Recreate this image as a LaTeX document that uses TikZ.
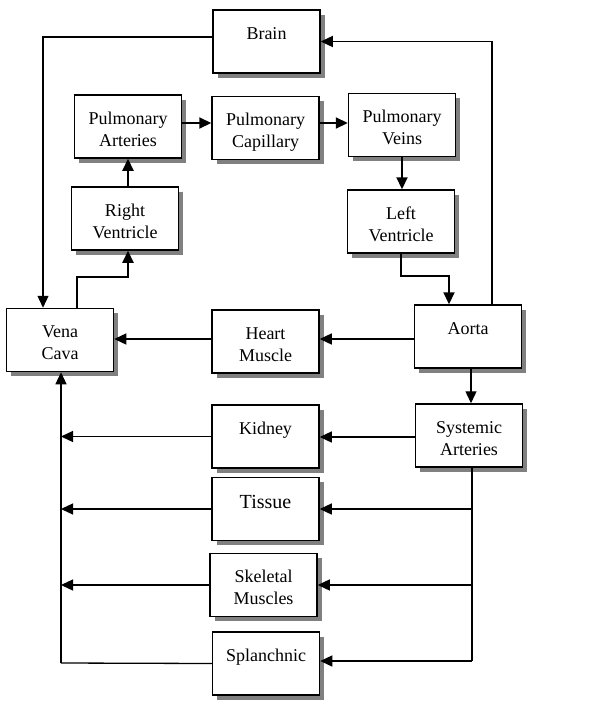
\documentclass[tikz,border=0pt]{standalone}
\usepackage{fontspec}
\setmainfont{Liberation Serif}
\usepackage{tikz}
\usetikzlibrary{shadows,arrows.meta}

\newcommand{\organ}[2][29pt]{\parbox[c][63pt][t]{107pt}{\centering\rule{0pt}{#1}#2}}

\begin{document}
\begin{tikzpicture}[x=1pt,y=-1pt,
		organbox/.style={draw,line width=1.5pt,fill=white,inner sep=0pt,minimum width=107pt,minimum height=63pt,
			drop shadow={shadow xshift=4.5pt,shadow yshift=-4.5pt,fill=black!50,opacity=1},
			font=\fontsize{18}{22}\selectfont},
		flow/.style={line width=1.3pt,-{Triangle[length=12pt,width=11pt]}},
		heavy/.style={flow,line width=2.2pt}]
		\useasboundingbox (0,0) rectangle (604,702);
		% organs
		\node[organbox] (brain) at (266.5,41.5) {\organ{Brain}};
		\node[organbox] (pulart) at (128,126.5) {\organ{Pulmonary\\Arteries}};
		\node[organbox] (pulcap) at (265.5,128) {\organ{Pulmonary\\Capillary}};
		\node[organbox] (pulvein) at (402,125) {\organ{Pulmonary\\Veins}};
		\node[organbox] (rvent) at (125,218.5) {\organ{Right\\Ventricle}};
		\node[organbox] (lvent) at (401,221.5) {\organ{Left\\Ventricle}};
		\node[organbox] (vcava) at (60,340) {\organ{Vena\\Cava}};
		\node[organbox] (heart) at (265.5,341.5) {\organ{Heart\\Muscle}};
		\node[organbox] (aorta) at (468,336.5) {\organ{Aorta}};
		\node[organbox] (sysart) at (469,435.5) {\organ{Systemic\\Arteries}};
		\node[organbox] (kidney) at (265.5,436.5) {\organ{Kidney}};
		\node[organbox] (tissue) at (265.5,509) {\fontsize{20}{22}\selectfont\organ[31pt]{Tissue}};
		\node[organbox] (skeletal) at (263.5,585) {\organ{Skeletal\\Muscles}};
		\node[organbox] (splanch) at (266,663.5) {\organ{Splanchnic}};
		\coordinate (venaup) at (77,277);
		\coordinate (trunk) at (61,663);
		\coordinate (bus) at (472,661);
		% heart and lungs
		\draw[heavy] (vcava.north -| venaup) -- (venaup) -| ([xshift=3pt]rvent.south);
		\draw[heavy] (pulart.south |- rvent.north) -- (pulart.south);
		\draw[heavy] ([yshift=3.5pt]pulart.east) -- ([yshift=3.5pt]pulart.east -| pulcap.west);
		\draw[heavy] ([yshift=5pt]pulcap.east) -- ([yshift=5pt]pulcap.east -| pulvein.west);
		\draw[heavy] (pulvein.south) -- (pulvein.south |- lvent.north);
		\draw[heavy] (lvent.south) -- ++(0,22) -| ([xshift=-19pt]aorta.north);
		% brain loop
		\draw[flow] ([xshift=24pt]aorta.north) |- (brain.east);
		\draw[flow] ([yshift=4.5pt]brain.west) -| ([xshift=-17pt]vcava.north);
		% body
		\draw[flow] ([yshift=-2.5pt]aorta.west) -- ([yshift=-2.5pt]aorta.west -| heart.east);
		\draw[flow] ([yshift=2.5pt]heart.west) -- ([yshift=2.5pt]heart.west -| vcava.east);
		\draw[flow] ([xshift=3pt]aorta.south) -- ([xshift=3pt]aorta.south |- sysart.north);
		\draw[flow] ([yshift=-1.5pt]sysart.west) -- ([yshift=-1.5pt]sysart.west -| kidney.east);
		\draw[line width=1.3pt] (sysart.south -| bus) -- (bus);
		\draw[flow] (tissue.east -| bus) -- (tissue.east);
		\draw[flow] (skeletal.east -| bus) -- (skeletal.east);
		\draw[flow] (bus) -- (bus -| splanch.east);
		\draw[flow] (kidney.west) -- (kidney.west -| trunk);
		\draw[flow] (tissue.west) -- (tissue.west -| trunk);
		\draw[flow] (skeletal.west) -- (skeletal.west -| trunk);
		\draw[line width=1.3pt] (splanch.west) -- (trunk);
		\draw[flow] (trunk) -- (trunk |- vcava.south);
	\end{tikzpicture}
\end{document}
